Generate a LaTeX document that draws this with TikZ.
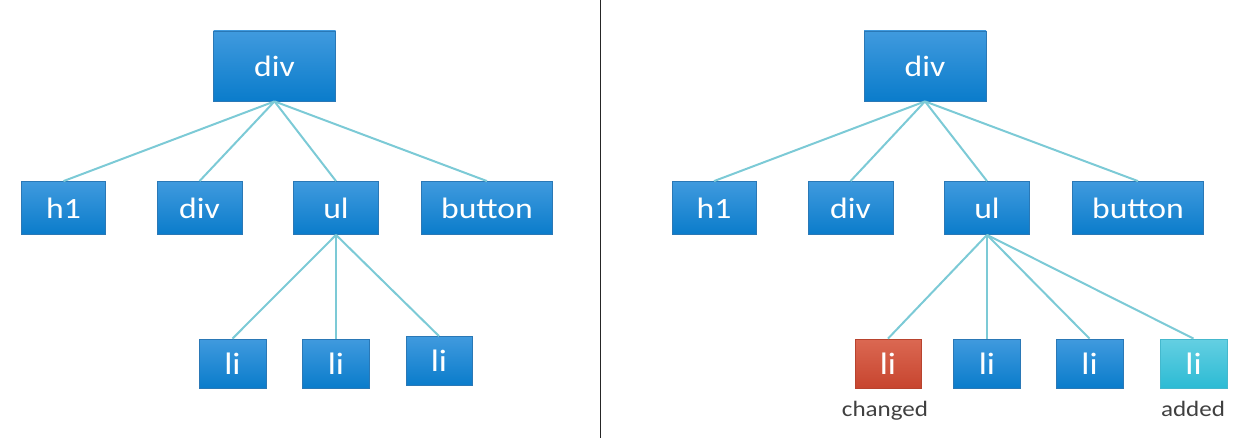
\documentclass[tikz,border=0pt]{standalone}
\usepackage{fontspec}
\usepackage{graphicx}
\setmainfont{Carlito}
\definecolor{blueTop}{HTML}{409ADE}
\definecolor{blueBot}{HTML}{0A7CCB}
\definecolor{blueBorder}{HTML}{2A78B6}
\definecolor{redTop}{HTML}{DB6852}
\definecolor{redBot}{HTML}{C7452F}
\definecolor{redBorder}{HTML}{B8432E}
\definecolor{cyanTop}{HTML}{64CFE2}
\definecolor{cyanBot}{HTML}{2CBBD4}
\definecolor{cyanBorder}{HTML}{44B8CD}
\definecolor{connCol}{HTML}{7CCAD6}
\definecolor{labelCol}{HTML}{404040}
\newcommand{\bigtxt}[1]{\fontsize{29.5}{31}\selectfont\scalebox{1.14}[1]{#1}}
\newcommand{\litxt}[1]{\fontsize{31}{33}\selectfont\scalebox{1.14}[1]{#1}}
\newcommand{\smalltxt}[1]{\fontsize{22}{24}\selectfont\scalebox{1.14}[1]{#1}}
\begin{document}
\begin{tikzpicture}[x=1pt,y=-1pt,
  box/.style={rectangle, inner sep=0pt, draw=blueBorder, line width=0.8pt,
    top color=blueTop, bottom color=blueBot, text=white},
  topbox/.style={box, minimum width=122pt, minimum height=70pt},
  midbox/.style={box, minimum width=85pt, minimum height=53pt},
  wideboxx/.style={box, minimum width=131pt, minimum height=53pt},
  libox/.style={box, minimum width=67pt, minimum height=49pt},
  redbox/.style={libox, draw=redBorder, top color=redTop, bottom color=redBot},
  cyanbox/.style={libox, draw=cyanBorder, top color=cyanTop, bottom color=cyanBot},
  conn/.style={draw=connCol, line width=2pt},
  lbl/.style={inner sep=0pt, anchor=base, text=labelCol},
  divider/.style={draw=black!85, line width=1.5pt}]
\useasboundingbox (0,0) rectangle (1249,438);

% divider
\coordinate (dtop) at (600.5,0);
\coordinate (dbot) at (600.5,438);
\draw[divider] (dtop) -- (dbot);

% ---------- left tree ----------
\node[topbox] (dL) at (274.5,66) {\bigtxt{div}};
\node[midbox, minimum width=84pt] (h1L) at (63.5,208) {\bigtxt{h1}};
\node[midbox] (divL) at (199.5,208) {\bigtxt{div}};
\node[midbox] (ulL) at (336,208) {\bigtxt{ul}};
\node[wideboxx] (btnL) at (487,208) {\bigtxt{button}};
\node[libox] (liL1) at (232.5,363.5) {\litxt{li}};
\node[libox] (liL2) at (336,363.5) {\litxt{li}};
\node[libox, minimum width=66pt] (liL3) at (439,361) {\litxt{li}};

\draw[conn] (dL.south) -- (h1L.north);
\draw[conn] (dL.south) -- (divL.north);
\draw[conn] (dL.south) -- (ulL.north);
\draw[conn] (dL.south) -- (btnL.north);
\draw[conn] (ulL.south) -- (liL1.north);
\draw[conn] (ulL.south) -- (liL2.north);
\draw[conn] (ulL.south) -- (liL3.north);

% ---------- right tree ----------
\node[topbox] (dR) at (925,66) {\bigtxt{div}};
\node[midbox, minimum width=84pt] (h1R) at (714,208) {\bigtxt{h1}};
\node[midbox] (divR) at (850.5,208) {\bigtxt{div}};
\node[midbox] (ulR) at (987,208) {\bigtxt{ul}};
\node[wideboxx] (btnR) at (1138,208) {\bigtxt{button}};
\node[redbox, minimum width=66pt] (liR1) at (888,363.5) {\litxt{li}};
\node[libox] (liR2) at (987,363.5) {\litxt{li}};
\node[libox] (liR3) at (1089.5,363.5) {\litxt{li}};
\node[cyanbox] (liR4) at (1193.5,363.5) {\litxt{li}};

\draw[conn] (dR.south) -- (h1R.north);
\draw[conn] (dR.south) -- (divR.north);
\draw[conn] (dR.south) -- (ulR.north);
\draw[conn] (dR.south) -- (btnR.north);
\draw[conn] (ulR.south) -- (liR1.north);
\draw[conn] (ulR.south) -- (liR2.north);
\draw[conn] (ulR.south) -- (liR3.north);
\draw[conn] (ulR.south) -- (liR4.north);

\node[lbl] (chg) at (885,416.7) {\smalltxt{changed}};
\node[lbl] (add) at (1193,416.7) {\smalltxt{added}};
\end{tikzpicture}
\end{document}
